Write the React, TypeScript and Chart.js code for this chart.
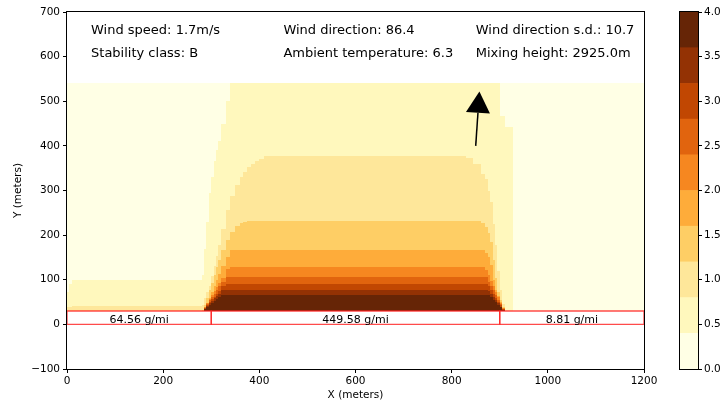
import React, { useEffect, useRef } from 'react';
import { Chart, registerables } from 'chart.js';
Chart.register(...registerables);

// ---------- axes ----------
const xTicks = [0, 200, 400, 600, 800, 1000, 1200];
const yTicks = [-100, 0, 100, 200, 300, 400, 500, 600, 700];
const cbTicks = [0, 0.5, 1.0, 1.5, 2.0, 2.5, 3.0, 3.5, 4.0];

// ---------- concentration levels (contour bands) ----------
const levelBounds = [0, 0.4, 0.8, 1.2, 1.6, 2.0, 2.4, 2.8, 3.2, 3.6, 4.0];
const levelColors = ['#ffffe5', '#fff8bd', '#fee79a', '#fece65', '#feac3a', '#f68720', '#e1640e', '#c14702', '#933204', '#662506'];

// ---------- concentration field: columns (x, m) and band tops (y, m) ----------
const fieldBottom = 30;
const fieldTop = 540;
const columnEdges = [0, 5, 10, 280, 285, 290, 295, 300, 305, 310, 315, 320, 330, 340, 350, 360, 367, 375, 382, 390, 400, 410, 830, 845, 860, 870, 875, 880, 885, 890, 895, 900, 905, 910, 920, 927, 1200];
const top04 = [72, 90, 100, 110, 170, 230, 295, 330, 365, 390, 410, 450, 500, 540, 540, 540, 540, 540, 540, 540, 540, 540, 540, 540, 540, 540, 540, 540, 540, 540, 540, 466, 466, 443, 443, 0];
const top08 = [38, 40, 42, 44, 60, 72, 86, 108, 131, 154, 177, 214, 257, 288, 312, 330, 342, 352, 360, 366, 371, 377, 373, 360, 337, 325, 300, 275, 225, 177, 120, 77, 45, 0, 0, 0];
const top12 = [0, 0, 0, 32, 44, 59, 76, 93, 111, 129, 145, 167, 190, 208, 221, 227, 230, 232, 232, 232, 232, 232, 232, 232, 228, 219, 205, 184, 145, 105, 72, 55, 39, 0, 0, 0];
const top16 = [0, 0, 0, 0, 39, 48, 59, 73, 86, 99, 112, 130, 152, 167, 167, 167, 167, 167, 167, 167, 167, 167, 167, 167, 167, 160, 150, 133, 100, 78, 64, 50, 37, 0, 0, 0];
const top20 = [0, 0, 0, 0, 38, 47, 57, 66, 75, 83, 92, 105, 123, 128, 128, 128, 128, 128, 128, 128, 128, 128, 128, 128, 128, 122, 110, 97, 85, 73, 61, 48, 36, 0, 0, 0];
const top24 = [0, 0, 0, 0, 37, 46, 54, 61, 69, 77, 85, 96, 107, 107, 107, 107, 107, 107, 107, 107, 107, 107, 107, 107, 107, 106, 96, 86, 76, 65, 55, 45, 35, 0, 0, 0];
const top28 = [0, 0, 0, 0, 36, 43, 50, 56, 62, 69, 75, 85, 91, 91, 91, 91, 91, 91, 91, 91, 91, 91, 91, 91, 91, 91, 85, 77, 68, 60, 51, 43, 34, 0, 0, 0];
const top32 = [0, 0, 0, 0, 35, 41, 47, 52, 58, 63, 69, 77, 77, 77, 77, 77, 77, 77, 77, 77, 77, 77, 77, 77, 77, 77, 75, 68, 61, 54, 47, 40, 33, 0, 0, 0];
const top36 = [0, 0, 0, 0, 34, 39, 44, 48, 53, 57, 62, 66, 66, 66, 66, 66, 66, 66, 66, 66, 66, 66, 66, 66, 66, 66, 66, 61, 55, 50, 44, 38, 33, 0, 0, 0];
const bandTops = [top04, top08, top12, top16, top20, top24, top28, top32, top36];

// ---------- road segments ----------
const roadStart = [0, 300, 900];
const roadEnd = [300, 900, 1200];
const roadLabels = ['64.56 g/mi', '449.58 g/mi', '8.81 g/mi'];
const roadBottom = 0;
const roadTop = 30;
const roadLabelY = 10;

// ---------- met info ----------
const infoRow1 = ['Wind speed: 1.7m/s', 'Wind direction: 86.4', 'Wind direction s.d.: 10.7'];
const infoRow2 = ['Stability class: B', 'Ambient temperature: 6.3', 'Mixing height: 2925.0m'];
const infoX = [50, 450, 850];
const infoY = [650, 600];

// ---------- wind arrow (data units) ----------
const arrowTail = [850, 400];
const arrowTip = [857.7, 522];
const arrowHeadLength = 48;
const arrowHeadWidth = 50;

const FONT = "'DejaVu Sans', sans-serif";

const fieldPlugin = {
  id: 'field',
  beforeDatasetsDraw(chart: any) {
    const { ctx, scales } = chart;
    const x = scales.x, y = scales.y;
    ctx.save();
    const pyBottom = Math.round(y.getPixelForValue(fieldBottom));
    for (let c = 0; c < columnEdges.length - 1; c++) {
      const px0 = Math.round(x.getPixelForValue(columnEdges[c]));
      const px1 = Math.round(x.getPixelForValue(columnEdges[c + 1]));
      const pyTop = Math.round(y.getPixelForValue(fieldTop));
      ctx.fillStyle = levelColors[0];
      ctx.fillRect(px0, pyTop, px1 - px0, pyBottom - pyTop);
      for (let k = 0; k < bandTops.length; k++) {
        const t = bandTops[k][c];
        if (!(t > fieldBottom)) continue;
        const py = Math.round(y.getPixelForValue(t));
        ctx.fillStyle = levelColors[k + 1];
        ctx.fillRect(px0, py, px1 - px0, pyBottom - py);
      }
    }
    ctx.restore();
  },
  afterDatasetsDraw(chart: any) {
    const { ctx, scales, chartArea } = chart;
    const x = scales.x, y = scales.y;
    ctx.save();
    ctx.fillStyle = '#000';
    ctx.font = `11px ${FONT}`;
    ctx.textAlign = 'center';
    ctx.textBaseline = 'middle';
    for (let i = 0; i < roadLabels.length; i++) {
      ctx.fillText(roadLabels[i], x.getPixelForValue((roadStart[i] + roadEnd[i]) / 2), y.getPixelForValue(roadLabelY));
    }
    ctx.font = `13px ${FONT}`;
    ctx.textAlign = 'left';
    ctx.textBaseline = 'alphabetic';
    [infoRow1, infoRow2].forEach((row, r) => {
      row.forEach((t, i) => {
        ctx.fillText(t, x.getPixelForValue(infoX[i]), y.getPixelForValue(infoY[r]));
      });
    });
    const tx = x.getPixelForValue(arrowTail[0]), ty = y.getPixelForValue(arrowTail[1]);
    const hx = x.getPixelForValue(arrowTip[0]), hy = y.getPixelForValue(arrowTip[1]);
    const len = Math.hypot(hx - tx, hy - ty);
    const ux = (hx - tx) / len, uy = (hy - ty) / len;
    const hl = Math.abs(y.getPixelForValue(0) - y.getPixelForValue(arrowHeadLength));
    const hw = Math.abs(x.getPixelForValue(arrowHeadWidth) - x.getPixelForValue(0));
    const bx = hx - ux * hl, by = hy - uy * hl;
    ctx.strokeStyle = '#000';
    ctx.lineWidth = 1.5;
    ctx.beginPath();
    ctx.moveTo(tx, ty);
    ctx.lineTo(bx, by);
    ctx.stroke();
    ctx.fillStyle = '#000';
    ctx.beginPath();
    ctx.moveTo(hx, hy);
    ctx.lineTo(bx - uy * hw / 2, by + ux * hw / 2);
    ctx.lineTo(bx + uy * hw / 2, by - ux * hw / 2);
    ctx.closePath();
    ctx.fill();
    ctx.strokeStyle = '#000';
    ctx.lineWidth = 1;
    const l = Math.round(chartArea.left) - 0.5, t = Math.round(chartArea.top) - 0.5;
    ctx.strokeRect(l, t, Math.round(chartArea.right) - Math.round(chartArea.left) + 1, Math.round(chartArea.bottom) - Math.round(chartArea.top) + 1);
    ctx.restore();
  },
};

const cbFramePlugin = {
  id: 'cbframe',
  afterDraw(chart: any) {
    const { ctx, chartArea } = chart;
    ctx.save();
    ctx.strokeStyle = '#000';
    ctx.lineWidth = 1;
    ctx.strokeRect(Math.round(chartArea.left) - 0.5, Math.round(chartArea.top) - 0.5,
      Math.round(chartArea.right) - Math.round(chartArea.left) + 1, Math.round(chartArea.bottom) - Math.round(chartArea.top) + 1);
    ctx.restore();
  },
};

const fmtMinus = (v: number) => (v < 0 ? '\u2212' + Math.abs(v) : String(v));

export default function App() {
  const mainRef = useRef<HTMLCanvasElement>(null);
  const cbRef = useRef<HTMLCanvasElement>(null);

  useEffect(() => {
    Chart.defaults.font.family = FONT;
    Chart.defaults.color = '#000';

    const roadDatasets = roadStart.map((s, i) => ({
      type: 'scatter' as const,
      data: [
        { x: s, y: roadBottom },
        { x: roadEnd[i], y: roadBottom },
        { x: roadEnd[i], y: roadTop },
        { x: s, y: roadTop },
        { x: s, y: roadBottom },
      ],
      showLine: true,
      borderColor: 'rgba(255,30,30,0.8)',
      borderWidth: 1.3,
      pointRadius: 0,
      fill: false,
    }));

    const main = new Chart(mainRef.current!, {
      type: 'scatter',
      data: { datasets: roadDatasets as any },
      options: {
        animation: false,
        responsive: false,
        devicePixelRatio: 1,
        layout: { padding: { left: 0, top: 12, right: 16, bottom: 0 } },
        plugins: { legend: { display: false }, tooltip: { enabled: false } },
        scales: {
          x: {
            type: 'linear',
            min: 0,
            max: 1200,
            afterBuildTicks: (s: any) => { s.ticks = xTicks.map((v) => ({ value: v })); },
            afterFit: (s: any) => { s.height = 39; },
            grid: { display: true, drawOnChartArea: false, drawTicks: true, tickLength: 4, color: '#000', tickColor: '#000' },
            border: { display: false },
            ticks: { font: { size: 10.5 }, color: '#000', padding: 2, maxRotation: 0, callback: (v: any) => fmtMinus(Number(v)) },
            title: { display: true, text: 'X (meters)', font: { size: 10.5 }, color: '#000', padding: { top: 0, bottom: 6 } },
          },
          y: {
            type: 'linear',
            min: -100,
            max: 700,
            afterBuildTicks: (s: any) => { s.ticks = yTicks.map((v) => ({ value: v })); },
            afterFit: (s: any) => { s.width = 67; },
            grid: { display: true, drawOnChartArea: false, drawTicks: true, tickLength: 4, color: '#000', tickColor: '#000' },
            border: { display: false },
            ticks: { font: { size: 10.5 }, color: '#000', padding: 3, callback: (v: any) => fmtMinus(Number(v)) },
            title: { display: true, text: 'Y (meters)', font: { size: 10.5 }, color: '#000', padding: { top: 12, bottom: 0 } },
          },
        },
      },
      plugins: [fieldPlugin],
    });

    const cb = new Chart(cbRef.current!, {
      type: 'bar',
      data: {
        labels: [''],
        datasets: levelColors.map((col, i) => ({
          data: [[levelBounds[i], levelBounds[i + 1]]],
          backgroundColor: col,
          borderWidth: 0,
          barPercentage: 1,
          categoryPercentage: 1,
        })) as any,
      },
      options: {
        animation: false,
        responsive: false,
        devicePixelRatio: 1,
        layout: { padding: { left: 20, top: 12, right: 0, bottom: 39 } },
        plugins: { legend: { display: false }, tooltip: { enabled: false } },
        scales: {
          x: { display: false, stacked: true },
          y: {
            type: 'linear',
            position: 'right',
            min: 0,
            max: 4,
            afterBuildTicks: (s: any) => { s.ticks = cbTicks.map((v) => ({ value: v })); },
            afterFit: (s: any) => { s.width = 26; },
            grid: { display: true, drawOnChartArea: false, drawTicks: true, tickLength: 4, color: '#000', tickColor: '#000' },
            border: { display: false },
            ticks: { font: { size: 10.5 }, color: '#000', padding: 2, callback: (v: any) => Number(v).toFixed(1) },
          },
        },
      },
      plugins: [cbFramePlugin],
    });

    return () => {
      main.destroy();
      cb.destroy();
    };
  }, []);

  return (
    <div style={{ position: 'fixed', left: 0, top: 0, width: 724, height: 408, background: '#fff' }}>
      <canvas ref={mainRef} width={660} height={408} style={{ position: 'absolute', left: 0, top: 0, width: 660, height: 408 }} />
      <canvas ref={cbRef} width={64} height={408} style={{ position: 'absolute', left: 660, top: 0, width: 64, height: 408 }} />
    </div>
  );
}
